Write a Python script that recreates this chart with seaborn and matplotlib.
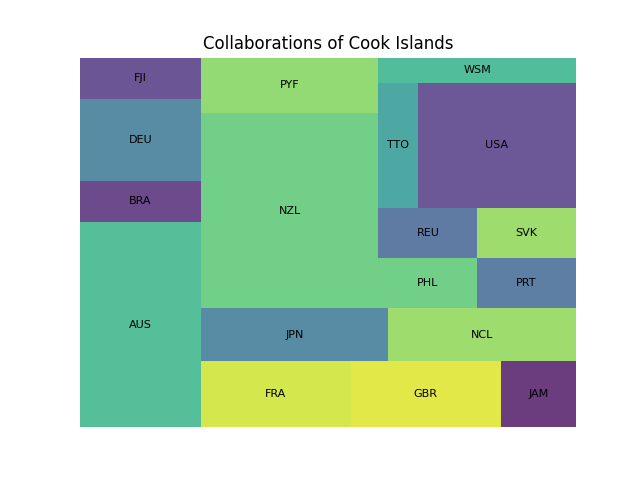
import matplotlib
matplotlib.use("Agg")
import matplotlib.pyplot as plt
import seaborn as sns

# Datos: colaboraciones por país (orden en que se dibujan)
paises = ['AUS', 'BRA', 'DEU', 'FJI', 'FRA', 'GBR', 'JAM', 'JPN', 'NCL',
          'NZL', 'PYF', 'PHL', 'PRT', 'REU', 'SVK', 'TTO', 'USA', 'WSM']
colaboraciones = [5, 1, 2, 1, 2, 2, 1, 2, 2, 7, 2, 1, 1, 1, 1, 1, 4, 1]

# posición en el mapa de color viridis de cada país
tonos = [0.63, 0.08, 0.36, 0.12, 0.92, 0.945, 0.03, 0.36, 0.82,
         0.72, 0.80, 0.72, 0.30, 0.28, 0.82, 0.50, 0.13, 0.62]


# Treemap tipo squarify
def layout_fila(sizes, x, y, dx, dy):
    ancho = sum(sizes) / dy
    rects = []
    for s in sizes:
        rects.append((x, y, ancho, s / ancho))
        y += s / ancho
    return rects


def layout_col(sizes, x, y, dx, dy):
    alto = sum(sizes) / dx
    rects = []
    for s in sizes:
        rects.append((x, y, s / alto, alto))
        x += s / alto
    return rects


def layout(sizes, x, y, dx, dy):
    if dx >= dy:
        return layout_fila(sizes, x, y, dx, dy)
    return layout_col(sizes, x, y, dx, dy)


def sobrante(sizes, x, y, dx, dy):
    if dx >= dy:
        ancho = sum(sizes) / dy
        return x + ancho, y, dx - ancho, dy
    alto = sum(sizes) / dx
    return x, y + alto, dx, dy - alto


def peor_ratio(sizes, x, y, dx, dy):
    return max(max(w / h, h / w) for (_, _, w, h) in layout(sizes, x, y, dx, dy))


def squarify(sizes, x, y, dx, dy):
    if len(sizes) == 0:
        return []
    if len(sizes) == 1:
        return layout(sizes, x, y, dx, dy)
    i = 1
    while i < len(sizes) and peor_ratio(sizes[:i], x, y, dx, dy) >= peor_ratio(sizes[:i + 1], x, y, dx, dy):
        i += 1
    actual = sizes[:i]
    resto = sizes[i:]
    nx, ny, ndx, ndy = sobrante(actual, x, y, dx, dy)
    return layout(actual, x, y, dx, dy) + squarify(resto, nx, ny, ndx, ndy)


total = sum(colaboraciones)
norm = [v * 100 * 100 / total for v in colaboraciones]
rects = squarify(norm, 0, 0, 100, 100)

cmap = sns.color_palette("viridis", as_cmap=True)

fig, ax = plt.subplots(figsize=(6.4, 4.8), dpi=100)
for (x, y, w, h), pais, t in zip(rects, paises, tonos):
    ax.bar(x, h, width=w, bottom=y, align='edge', color=cmap(t), alpha=0.8, linewidth=0)
    ax.text(x + w / 2, y + h / 2, pais, ha='center', va='center', fontsize=8)

ax.set_xlim(0, 100)
ax.set_ylim(0, 100)
ax.axis('off')
ax.set_title('Collaborations of Cook Islands')

plt.savefig('out.png', dpi=100)
